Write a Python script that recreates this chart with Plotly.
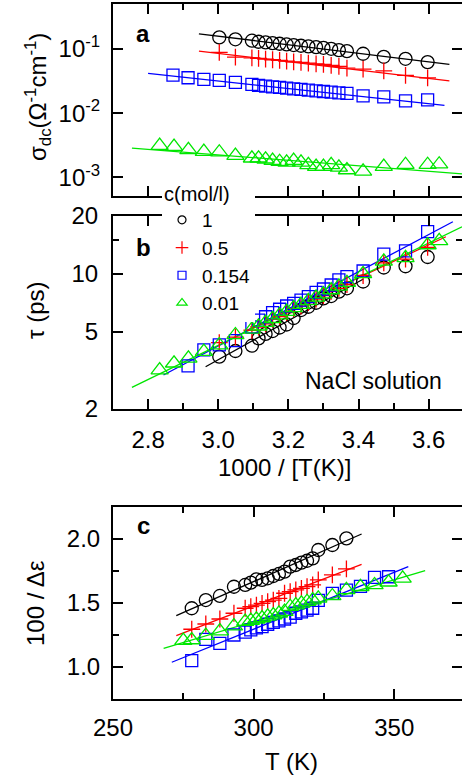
import plotly.graph_objects as go

# ---------------- data ----------------
# panel a: sigma_dc vs 1000/T
a_x_black = [3.003, 3.049, 3.096, 3.115, 3.135, 3.155, 3.175, 3.195, 3.215, 3.236,
             3.257, 3.279, 3.300, 3.322, 3.344, 3.367, 3.413, 3.472, 3.534, 3.597]
a_y_black = [0.152, 0.142, 0.135, 0.130, 0.127, 0.124, 0.121, 0.118, 0.1155, 0.1126,
             0.110, 0.1074, 0.1047, 0.101, 0.0964, 0.093, 0.0845, 0.0758, 0.0705, 0.0626]
a_x_red = a_x_black
a_y_red = [0.0888, 0.075, 0.0731, 0.0716, 0.0698, 0.0681, 0.0666, 0.0649, 0.0633, 0.0619,
           0.0604, 0.0589, 0.0577, 0.0556, 0.0537, 0.0505, 0.0487, 0.0458, 0.0388, 0.0356]
a_x_blue = [2.871, 2.914, 2.959, 3.003, 3.049, 3.096, 3.115, 3.135, 3.155, 3.175, 3.195, 3.215,
            3.236, 3.257, 3.279, 3.300, 3.322, 3.344, 3.367, 3.413, 3.472, 3.534, 3.597]
a_y_blue = [0.0393, 0.0357, 0.0336, 0.0324, 0.0302, 0.0281, 0.0271, 0.0264, 0.0258, 0.0252,
            0.0246, 0.0240, 0.0235, 0.0229, 0.0223, 0.0218, 0.0213, 0.0208, 0.0203, 0.0186,
            0.0180, 0.0156, 0.0161]
a_x_green = [2.833, 2.874, 2.915, 2.959, 3.003, 3.049, 3.096, 3.115, 3.135, 3.155, 3.175, 3.195,
             3.215, 3.236, 3.257, 3.279, 3.300, 3.322, 3.344, 3.367, 3.413, 3.472, 3.534, 3.597, 3.630]
a_y_green = [3.12e-3, 3.01e-3, 2.67e-3, 2.51e-3, 2.46e-3, 2.18e-3, 1.98e-3, 1.98e-3, 1.91e-3,
             1.82e-3, 1.75e-3, 1.71e-3, 1.82e-3, 1.71e-3, 1.56e-3, 1.47e-3, 1.47e-3, 1.56e-3,
             1.43e-3, 1.30e-3, 1.24e-3, 1.47e-3, 1.57e-3, 1.57e-3, 1.60e-3]
# fit lines panel a (end points)
a_fit_black_x, a_fit_black_y = [2.945, 3.659], [0.173, 0.0577]
a_fit_red_x, a_fit_red_y = [2.945, 3.659], [0.0931, 0.0320]
a_fit_blue_x, a_fit_blue_y = [2.80, 3.645], [0.0417, 0.0132]
a_fit_green_x, a_fit_green_y = [2.754, 3.695], [2.84e-3, 1.13e-3]

# panel b: tau vs 1000/T
b_x_black = a_x_black
b_y_black = [3.72, 3.98, 4.24, 4.63, 4.88, 5.05, 5.27, 5.46, 5.9, 6.49,
             6.75, 7.08, 7.46, 7.67, 8.08, 8.41, 9.12, 10.78, 10.94, 12.22]
b_x_red = a_x_black
b_y_red = [4.4, 4.7, 5.1, 5.3, 5.5, 5.8, 6.0, 6.3, 6.6, 6.8,
           7.1, 7.4, 7.7, 8.1, 8.4, 8.8, 9.8, 11.4, 11.9, 13.7]
b_x_blue = [2.914, 2.959, 3.003, 3.049, 3.096, 3.115, 3.135, 3.155, 3.175, 3.195, 3.215,
            3.236, 3.257, 3.279, 3.300, 3.322, 3.344, 3.367, 3.413, 3.472, 3.534, 3.597]
b_y_blue = [3.33, 4.03, 4.28, 4.51, 5.30, 5.76, 5.99, 6.30, 6.55, 6.81, 7.03,
            7.31, 7.61, 8.02, 8.34, 8.75, 9.29, 9.66, 10.34, 12.66, 13.13, 16.52]
b_x_green = a_x_green
b_y_green = [3.17, 3.44, 3.65, 3.95, 4.27, 4.82, 5.15, 5.35, 5.59, 5.85, 6.11, 6.37,
             6.66, 6.92, 7.24, 7.55, 7.85, 8.24, 8.60, 8.99, 10.0, 11.6, 12.1, 14.1, 14.8]
b_fit_black_x, b_fit_black_y = [2.964, 3.414], [3.30, 9.40]
b_fit_red_x, b_fit_red_y = [3.08, 3.649], [5.08, 15.56]
b_fit_blue_x, b_fit_blue_y = [2.844, 3.669], [2.99, 18.6]
b_fit_green_x, b_fit_green_y = [2.754, 3.695], [2.58, 17.5]

# panel c: 100/Delta eps vs T
c_x_black = [278, 283, 288, 293, 297, 299, 301, 303, 305, 307,
             309, 311, 313, 315, 317, 319, 321, 323, 328, 333]
c_y_black = [1.459, 1.523, 1.555, 1.627, 1.641, 1.659, 1.685, 1.680, 1.693, 1.711,
             1.727, 1.745, 1.784, 1.797, 1.815, 1.830, 1.849, 1.914, 1.953, 2.005]
c_x_red = c_x_black
c_y_red = [1.295, 1.336, 1.375, 1.42, 1.459, 1.471, 1.484, 1.497, 1.51, 1.523,
           1.536, 1.576, 1.589, 1.602, 1.615, 1.628, 1.641, 1.68, 1.719, 1.766]
c_x_blue = [278, 283, 288, 293, 297, 299, 301, 303, 305, 307, 309, 311,
            313, 315, 317, 319, 321, 323, 328, 333, 338, 343, 348]
c_y_blue = [1.05, 1.216, 1.185, 1.25, 1.273, 1.29, 1.305, 1.315, 1.334, 1.349, 1.36, 1.375,
            1.39, 1.42, 1.43, 1.445, 1.459, 1.52, 1.575, 1.60, 1.63, 1.70, 1.705]
c_x_green = [275, 278, 283, 288, 293, 297, 299, 301, 303, 305, 307, 309, 311,
             313, 315, 317, 319, 321, 323, 328, 333, 338, 343, 348, 353]
c_y_green = [1.206, 1.211, 1.245, 1.281, 1.32, 1.354, 1.362, 1.373, 1.383, 1.396, 1.406, 1.42,
             1.433, 1.471, 1.484, 1.497, 1.51, 1.523, 1.536, 1.555, 1.602, 1.627, 1.641,
             1.662, 1.693]
c_fit_black_x, c_fit_black_y = [272.5, 338.4], [1.401, 2.039]
c_fit_red_x, c_fit_red_y = [272.5, 338.4], [1.245, 1.802]
c_fit_blue_x, c_fit_blue_y = [270.9, 355.0], [1.037, 1.784]
c_fit_green_x, c_fit_green_y = [268.0, 361.0], [1.146, 1.752]

concentrations = ["1", "0.5", "0.154", "0.01"]

# ---------------- styling ----------------
W, H = 462, 779
FONT = "Liberation Sans, Arial, sans-serif"
BLACK, RED, BLUE, GREEN = "#000000", "#ff0000", "#0000ff", "#00e600"
colors = [BLACK, RED, BLUE, GREEN]
symbols = ["circle-open", "cross-thin-open", "square-open", "triangle-up-open"]
sizes = [13, 12, 12, 15]
legend_sizes = [8, 9, 8, 9]

fig = go.Figure()

def add_series(xs, ys, idx, xa, ya):
    fig.add_trace(go.Scatter(
        x=xs, y=ys, mode="markers", xaxis=xa, yaxis=ya, showlegend=False,
        marker=dict(symbol=symbols[idx], size=sizes[idx], color=colors[idx],
                    line=dict(width=1.3, color=colors[idx]))))

def add_fit(xs, ys, idx, xa, ya):
    fig.add_trace(go.Scatter(
        x=xs, y=ys, mode="lines", xaxis=xa, yaxis=ya, showlegend=False,
        line=dict(color=colors[idx], width=1.3)))

panels = [
    ("x", "y", [(a_x_black, a_y_black), (a_x_red, a_y_red), (a_x_blue, a_y_blue), (a_x_green, a_y_green)],
     [(a_fit_black_x, a_fit_black_y), (a_fit_red_x, a_fit_red_y), (a_fit_blue_x, a_fit_blue_y), (a_fit_green_x, a_fit_green_y)]),
    ("x2", "y2", [(b_x_black, b_y_black), (b_x_red, b_y_red), (b_x_blue, b_y_blue), (b_x_green, b_y_green)],
     [(b_fit_black_x, b_fit_black_y), (b_fit_red_x, b_fit_red_y), (b_fit_blue_x, b_fit_blue_y), (b_fit_green_x, b_fit_green_y)]),
    ("x3", "y3", [(c_x_black, c_y_black), (c_x_red, c_y_red), (c_x_blue, c_y_blue), (c_x_green, c_y_green)],
     [(c_fit_black_x, c_fit_black_y), (c_fit_red_x, c_fit_red_y), (c_fit_blue_x, c_fit_blue_y), (c_fit_green_x, c_fit_green_y)]),
]
for xa, ya, series, fits in panels:
    for i, (fx, fy) in enumerate(fits):
        add_fit(fx, fy, i, xa, ya)
    for i, (sx, sy) in enumerate(series):
        add_series(sx, sy, i, xa, ya)

# legend-only traces
for i, name in enumerate(concentrations):
    fig.add_trace(go.Scatter(
        x=[None], y=[None], mode="markers", name=name, xaxis="x2", yaxis="y2",
        marker=dict(symbol=symbols[i], size=legend_sizes[i], color=colors[i],
                    line=dict(width=1.2, color=colors[i]))))

def px_x(p):
    return p / W

def px_y(p):
    return 1 - p / H

minor_style = dict(ticks="inside", ticklen=6, tickwidth=1.5, tickcolor="black")
axis_common = dict(showline=True, linewidth=2, linecolor="black", mirror="ticks",
                   ticks="inside", ticklen=10, tickwidth=1.5, tickcolor="black",
                   showgrid=False, zeroline=False, automargin=False,
                   tickfont=dict(family=FONT, size=24, color="black"))
xdom = [113 / W, 1.0]

fig.update_layout(
    template="none",
    width=W, height=H, margin=dict(l=0, r=0, t=0, b=0, pad=0),
    paper_bgcolor="white", plot_bgcolor="white",
    font=dict(family=FONT, color="black"),
    xaxis=dict(domain=xdom, range=[2.7, 3.695], anchor="y", tickvals=[2.8, 3.0, 3.2, 3.4, 3.6],
               showticklabels=False, minor=dict(dtick=0.1, tick0=2.7, **minor_style),
               **axis_common),
    yaxis=dict(domain=[px_y(196), px_y(4)], type="log", range=[-3.292, -0.297], anchor="x",
               tickvals=[0.001, 0.01, 0.1],
               ticktext=["10<sup>-3</sup>", "10<sup>-2</sup>", "10<sup>-1</sup>"],
               ticklabelstandoff=6, **axis_common),
    xaxis2=dict(domain=xdom, range=[2.7, 3.695], anchor="y2", tickvals=[2.8, 3.0, 3.2, 3.4, 3.6],
                ticktext=["2.8", "3.0", "3.2", "3.4", "3.6"], ticklabelstandoff=8,
                minor=dict(dtick=0.1, tick0=2.7, **minor_style),
                **axis_common),
    yaxis2=dict(domain=[px_y(408.7), px_y(215.7)], type="log", range=[0.30103, 1.30103], anchor="x2",
                tickvals=[2, 5, 10, 20], ticktext=["2", "5", "10", "20"], ticklabelstandoff=8,
                minor=dict(tickvals=[15], **minor_style),
                **axis_common),
    xaxis3=dict(domain=xdom, range=[250, 374.1], anchor="y3", tickvals=[250, 300, 350],
                ticklabelstandoff=6, minor=dict(dtick=25, tick0=250, **minor_style),
                **axis_common),
    yaxis3=dict(domain=[px_y(699), px_y(507)], range=[0.75, 2.25], anchor="x3",
                tickvals=[1.0, 1.5, 2.0], ticktext=["1.0", "1.5", "2.0"], ticklabelstandoff=6,
                minor=dict(dtick=0.25, tick0=0.75, **minor_style),
                **axis_common),
    legend=dict(x=px_x(162), y=px_y(175), xanchor="left", yanchor="top",
                bgcolor="white", borderwidth=0,
                font=dict(family=FONT, size=19, color="black"),
                title=dict(text="c(mol/l)", font=dict(family=FONT, size=20, color="black")),
                tracegroupgap=0, itemwidth=30),
)

ann = []
def add_text(text, x, y, size=24, angle=0, bold=False):
    ann.append(dict(text=("<b>%s</b>" % text) if bold else text, x=px_x(x), y=px_y(y),
                    xref="paper", yref="paper", showarrow=False, textangle=angle,
                    xanchor="center", yanchor="middle",
                    font=dict(family=FONT, size=size, color="black")))

add_text("a", 143, 34, 24, bold=True)
add_text("b", 143, 247, 24, bold=True)
add_text("c", 143, 525, 24, bold=True)
add_text("NaCl solution", 373, 381, 23)
add_text("σ<sub>dc</sub>(Ω<sup>-1</sup>cm<sup>-1</sup>)", 38, 97, 24, angle=-90)
add_text("τ (ps)", 35, 311, 24, angle=-90)
add_text("100 / Δε", 35, 603, 24, angle=-90)
add_text("1000 / [T(K)]", 284, 467, 24)
add_text("T (K)", 291, 761, 24)
fig.update_layout(annotations=ann)

fig.write_html("out.html", config={"displayModeBar": False},
               post_script="document.body.style.margin='0';document.body.style.overflow='hidden';")
